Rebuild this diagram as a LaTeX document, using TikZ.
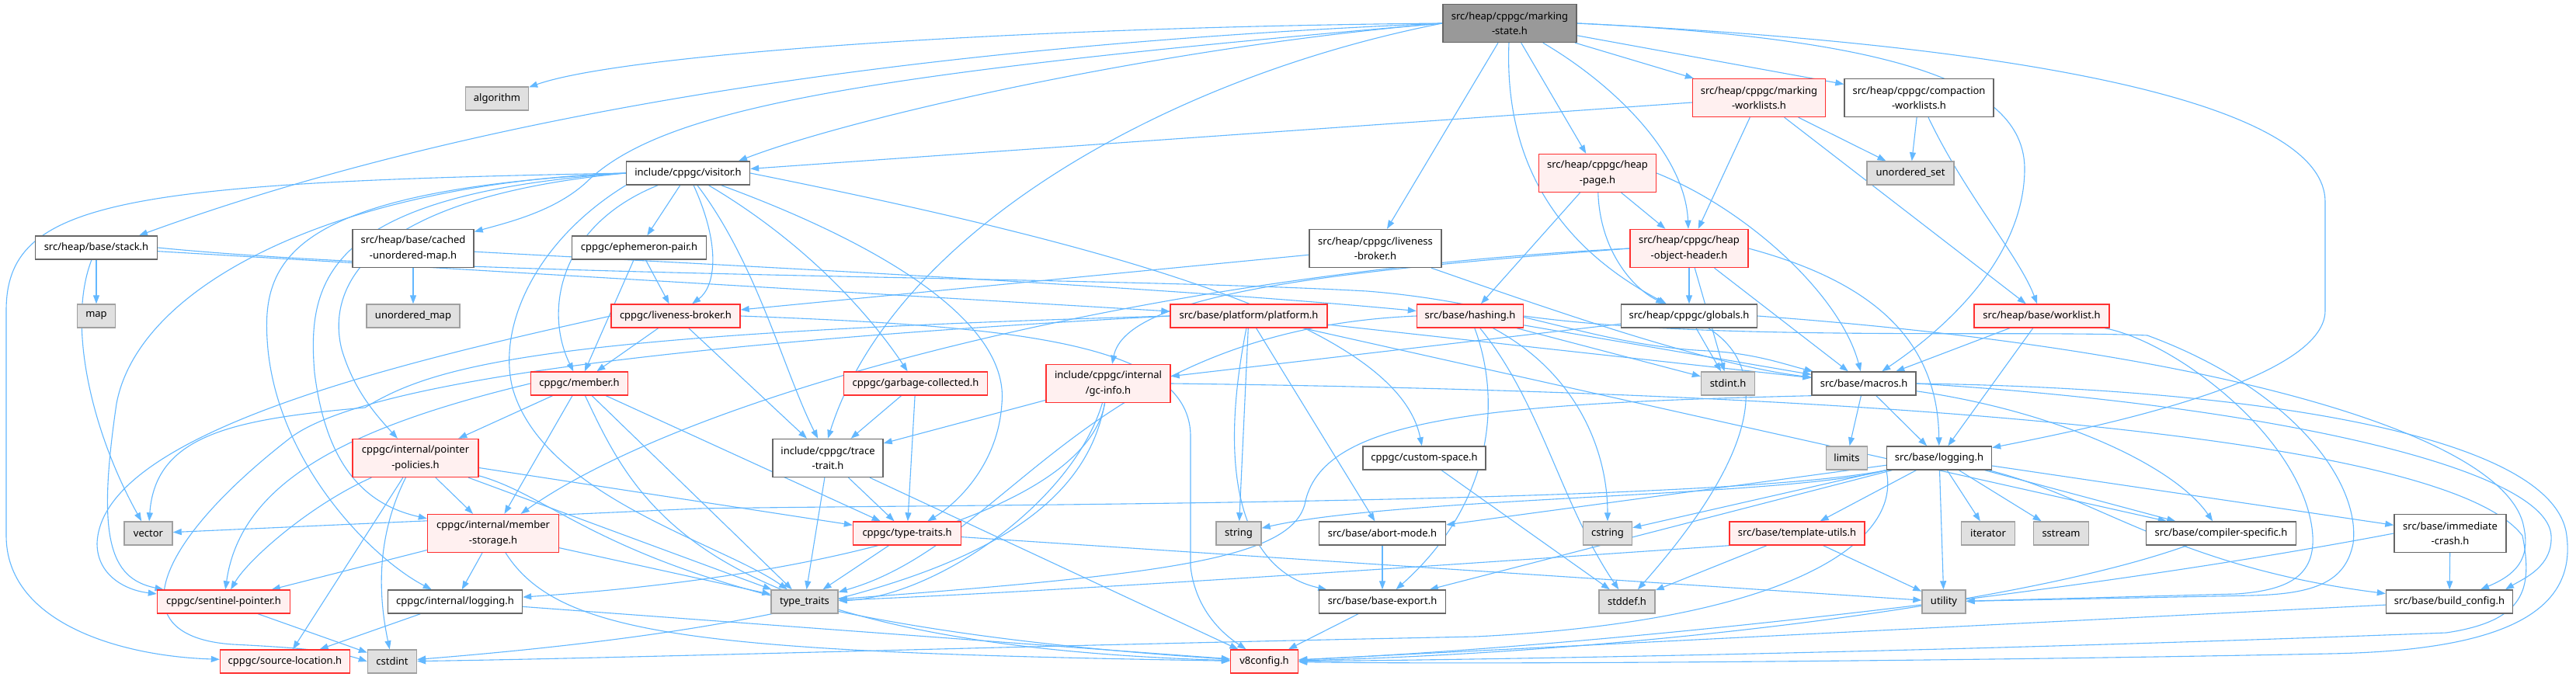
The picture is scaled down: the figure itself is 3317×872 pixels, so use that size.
\documentclass[tikz,border=0pt]{standalone}
\usepackage{fontspec}
\setmainfont{Noto Sans}
\usetikzlibrary{arrows.meta}
\pgfdeclarelayer{bg}
\pgfsetlayers{bg,main}
\definecolor{edgecol}{HTML}{63B8FF}
\definecolor{redb}{HTML}{FF3030}
\definecolor{redf}{HTML}{FFF0F0}
\definecolor{plb}{HTML}{666666}
\definecolor{syb}{HTML}{A0A0A0}
\definecolor{syf}{HTML}{E0E0E0}
\definecolor{rtf}{HTML}{999999}
\begin{document}
\begin{tikzpicture}[x=1pt,y=-1pt,
  nd/.style={inner sep=0pt, line width=1.4pt, align=center, font=\fontsize{13}{19.5}\selectfont},
  pl/.style={nd, draw=plb, fill=white},
  rd/.style={nd, draw=redb, fill=redf},
  sy/.style={nd, draw=syb, fill=syf},
  rt/.style={nd, draw=plb, fill=rtf},
  wh/.style 2 args={minimum width=#1pt, minimum height=#2pt},
  edg/.style={draw=edgecol, line width=1.1pt, -{Triangle[length=11pt,width=8pt]}}]
\useasboundingbox (0,0) rectangle (3317,872);
% ---------- nodes ----------
\node[rt,wh={172}{49}] (ms) at (1944,30) {src/heap/cppgc/marking\\-state.h};
\node[sy,wh={81}{30}] (alg) at (640,127) {algorithm};
\node[pl,wh={157}{30}] (stack) at (124,319) {src/heap/base/stack.h};
\node[pl,wh={156}{49}] (cached) at (532,320) {src/heap/base/cached\\-unordered-map.h};
\node[pl,wh={159}{30}] (vis) at (886,223) {include/cppgc/visitor.h};
\node[pl,wh={170}{49}] (lbsrc) at (1771,320) {src/heap/cppgc/liveness\\-broker.h};
\node[rd,wh={151}{49}] (hpage) at (2057,223) {src/heap/cppgc/heap\\-page.h};
\node[rd,wh={171}{49}] (mwl) at (2265,126) {src/heap/cppgc/marking\\-worklists.h};
\node[pl,wh={192}{49}] (cwl) at (2471,126) {src/heap/cppgc/compaction\\-worklists.h};
\node[sy,wh={112}{30}] (uset) at (2460,223) {unordered\_set};
\node[pl,wh={173}{30}] (eph) at (823,319) {cppgc/ephemeron-pair.h};
\node[rd,wh={152}{49}] (hoh) at (2175,320) {src/heap/cppgc/heap\\-object-header.h};
\node[sy,wh={49}{30}] (map) at (124,407) {map};
\node[sy,wh={120}{30}] (umap) at (532,407) {unordered\_map};
\node[rd,wh={166}{30}] (lbc) at (870,407) {cppgc/liveness-broker.h};
\node[rd,wh={202}{30}] (plat) at (1608,407) {src/base/platform/platform.h};
\node[rd,wh={137}{30}] (hash) at (1893,407) {src/base/hashing.h};
\node[pl,wh={175}{30}] (glob) at (2175,407) {src/heap/cppgc/globals.h};
\node[rd,wh={174}{30}] (wl) at (2629,407) {src/heap/base/worklist.h};
\node[rd,wh={125}{30}] (member) at (746,494) {cppgc/member.h};
\node[rd,wh={185}{30}] (gc) at (1179,494) {cppgc/garbage-collected.h};
\node[rd,wh={160}{49}] (gcinfo) at (1427,494) {include/cppgc/internal\\/gc-info.h};
\node[sy,wh={69}{30}] (stdint) at (2225,494) {stdint.h};
\node[pl,wh={134}{30}] (macros) at (2400,494) {src/base/macros.h};
\node[rd,wh={162}{49}] (pp) at (535,590) {cppgc/internal/pointer\\-policies.h};
\node[pl,wh={142}{49}] (tt) at (1066,590) {include/cppgc/trace\\-trait.h};
\node[pl,wh={158}{30}] (cs) at (1834,590) {cppgc/custom-space.h};
\node[sy,wh={53}{30}] (limits) at (2378,590) {limits};
\node[pl,wh={135}{30}] (log) at (2497,590) {src/base/logging.h};
\node[sy,wh={62}{30}] (vector) at (191,687) {vector};
\node[rd,wh={169}{49}] (ms2) at (635,687) {cppgc/internal/member\\-storage.h};
\node[rd,wh={139}{30}] (typ) at (1168,687) {cppgc/type-traits.h};
\node[sy,wh={58}{30}] (string) at (1595,687) {string};
\node[pl,wh={163}{30}] (abort) at (1780,687) {src/base/abort-mode.h};
\node[sy,wh={63}{30}] (cstring) at (2070,687) {cstring};
\node[rd,wh={174}{30}] (tu) at (2314,687) {src/base/template-utils.h};
\node[sy,wh={69}{30}] (iter) at (2560,687) {iterator};
\node[sy,wh={71}{30}] (sstream) at (2654,687) {sstream};
\node[pl,wh={193}{30}] (csp) at (2860,687) {src/base/compiler-specific.h};
\node[pl,wh={144}{49}] (ic) at (3155,687) {src/base/immediate\\-crash.h};
\node[rd,wh={171}{30}] (sent) at (288,775) {cppgc/sentinel-pointer.h};
\node[pl,wh={173}{30}] (ilog) at (586,775) {cppgc/internal/logging.h};
\node[sy,wh={86}{30}] (tts) at (1036,775) {type\_traits};
\node[pl,wh={163}{30}] (bexp) at (1780,775) {src/base/base-export.h};
\node[sy,wh={72}{30}] (stddef) at (2095,775) {stddef.h};
\node[sy,wh={56}{30}] (util) at (2503,775) {utility};
\node[pl,wh={163}{30}] (bc) at (3154,775) {src/base/build\_config.h};
\node[rd,wh={167}{30}] (sl) at (367,852) {cppgc/source-location.h};
\node[sy,wh={63}{30}] (cstdint) at (505,852) {cstdint};
\node[rd,wh={87}{30}] (v8) at (1628,852) {v8config.h};
% ---------- edges ----------
\begin{pgfonlayer}{bg}
\fill[white] (0,0) rectangle (3317,872);
% marking-state
\draw[edg] (ms.west) .. controls (1300,35) and (800,70) .. (alg);
\draw[edg] (ms.west) .. controls (1150,60) and (600,150) .. ([xshift=55pt]stack.north);
\draw[edg] (ms.west) .. controls (1100,95) and (860,140) .. (760,230) .. controls (720,270) and (660,285) .. (cached);
\draw[edg] (ms.west) .. controls (1500,60) and (1100,150) .. ([xshift=65pt]vis.north);
\draw[edg] (ms.west) .. controls (1500,100) and (1150,300) .. (tt.north);
\draw[edg] (ms) -- (lbsrc);
\draw[edg] (ms) .. controls (1935,250) and (2050,340) .. (glob);
\draw[edg] (ms) -- (hpage);
\draw[edg] (ms) .. controls (2080,110) and (2170,200) .. (hoh);
\draw[edg] (ms) -- (mwl);
\draw[edg] (ms) -- (cwl);
\draw[edg] (ms.east) .. controls (2450,50) and (2609,110) .. (2607,220) .. controls (2605,330) and (2510,420) .. (macros);
\draw[edg] (ms.east) .. controls (2650,60) and (2994,140) .. (2994,260) -- (2994,400) .. controls (2994,490) and (2700,550) .. (log);
% visitor
\draw[edg] (vis.west) .. controls (150,235) and (8,260) .. (8,400) -- (8,690) .. controls (8,800) and (150,845) .. (sl);
\draw[edg] (vis.west) .. controls (450,235) and (180,360) .. (150,520) .. controls (125,690) and (140,745) .. (sent);
\draw[edg] (vis.west) .. controls (360,245) and (335,340) .. (345,450) .. controls (360,600) and (480,720) .. (ilog);
\draw[edg] (vis.west) .. controls (420,250) and (395,360) .. (405,480) .. controls (420,600) and (470,650) .. (ms2);
\draw[edg] (vis.west) .. controls (470,255) and (420,370) .. (440,450) .. controls (455,500) and (480,530) .. (pp);
\draw[edg] (vis.south west) .. controls (690,310) and (640,420) .. (660,500) .. controls (700,640) and (930,700) .. (tts);
\draw[edg] (vis) -- (eph);
\draw[edg] (vis) .. controls (930,320) and (920,370) .. (lbc);
\draw[edg] (vis) .. controls (975,340) and (1010,480) .. (tt);
\draw[edg] (vis) .. controls (1050,320) and (1130,420) .. (gc);
\draw[edg] (vis) .. controls (1150,320) and (1300,420) .. (1290,520) .. controls (1285,600) and (1230,650) .. (typ);
\draw[edg] (vis.east) .. controls (1450,320) and (1800,420) .. (cs);
\draw[edg] (vis) .. controls (720,290) and (700,400) .. (member);
% ephemeron / liveness broker
\draw[edg] (eph) -- (lbc);
\draw[edg] (eph) -- (member);
\draw[edg] (lbc) -- (member);
\draw[edg] (lbc) -- (tt);
\draw[edg] (lbc.west) .. controls (500,470) and (130,560) .. (125,700) .. controls (125,740) and (160,760) .. (sent);
\draw[edg] (lbc.east) .. controls (1300,420) and (1530,440) .. (1533,560) -- (1533,730) .. controls (1540,790) and (1580,820) .. (v8);
% member
\draw[edg] (member) -- (pp);
\draw[edg] (member) -- (ms2);
\draw[edg] (member.west) .. controls (450,550) and (310,620) .. (sent);
\draw[edg] (member) -- (typ);
\draw[edg] (member) -- (tts);
\draw[edg] (member) .. controls (820,650) and (900,830) .. (v8);
% pointer policies
\draw[edg] (pp) -- (ms2);
\draw[edg] (pp) .. controls (400,650) and (320,720) .. (sent);
\draw[edg] (pp) -- (sl);
\draw[edg] (pp) .. controls (480,700) and (490,780) .. (cstdint);
\draw[edg] (pp) -- (typ);
\draw[edg] (pp) -- (tts);
\draw[edg] (pp) .. controls (750,650) and (820,800) .. (v8);
% member storage
\draw[edg] (ms2) -- (ilog);
\draw[edg] (ms2) -- (sent);
\draw[edg] (ms2) .. controls (720,820) and (900,840) .. (v8);
\draw[edg] (ms2) -- (tts);
\draw[edg] (ilog) -- (sl);
\draw[edg] (ilog) -- (v8);
\draw[edg] (sent) -- (cstdint);
% trace trait etc
\draw[edg] (tt) -- (tts);
\draw[edg] (tt) -- (typ);
\draw[edg] (tt) -- (v8);
\draw[edg] (gc) -- (tt);
\draw[edg] (gc) -- (typ);
\draw[edg] (typ) -- (tts);
\draw[edg] (typ) -- (util);
% gc-info
\draw[edg] (gcinfo) -- (tt);
\draw[edg] (gcinfo) .. controls (1380,650) and (1200,770) .. (tts);
\draw[edg] (gcinfo) .. controls (1390,700) and (1150,800) .. (cstdint);
\draw[edg] (gcinfo) .. controls (1400,650) and (1100,740) .. (ilog);
\draw[edg] (gcinfo.east) .. controls (2400,505) and (3150,560) .. (3248,690) .. controls (3262,760) and (3250,800) .. (3150,815) .. controls (2500,840) and (1900,850) .. (v8);
% heap object header
\draw[edg] (hoh) -- (stdint);
\draw[edg] (hoh.west) .. controls (1700,350) and (1450,380) .. (gcinfo);
\draw[edg] (hoh.west) .. controls (1500,350) and (900,500) .. (ms2);
\draw[edg] (hoh) -- (glob);
\draw[edg] (hoh) -- (macros);
\draw[edg] (hoh.east) .. controls (2400,360) and (2495,430) .. (log);
% heap page
\draw[edg] (hpage) -- (hoh);
\draw[edg] (hpage) .. controls (2060,320) and (2100,370) .. (glob);
\draw[edg] (hpage) -- (hash);
\draw[edg] (hpage.east) .. controls (2250,270) and (2370,380) .. (macros);
% worklists
\draw[edg] (mwl) -- (vis);
\draw[edg] (mwl) -- (hoh);
\draw[edg] (mwl) -- (uset);
\draw[edg] (mwl) -- (wl);
\draw[edg] (cwl) -- (uset);
\draw[edg] (cwl) .. controls (2530,250) and (2600,330) .. (wl);
% liveness broker src
\draw[edg] (lbsrc) -- (lbc);
\draw[edg] (lbsrc) .. controls (2000,400) and (2200,470) .. (macros);
% globals
\draw[edg] (glob) -- (stdint);
\draw[edg] (glob) .. controls (2290,480) and (2250,600) .. (stddef);
\draw[edg] (glob) -- (gcinfo);
\draw[edg] (glob.east) .. controls (2850,450) and (3230,560) .. (3250,680) .. controls (3258,720) and (3240,740) .. ([xshift=40pt]bc.north);
% hashing
\draw[edg] (hash) -- (stdint);
\draw[edg] (hash) -- (macros);
\draw[edg] (hash) .. controls (1935,520) and (1920,650) .. (bexp);
\draw[edg] (hash) .. controls (1985,520) and (2010,650) .. (stddef);
\draw[edg] (hash) .. controls (2030,480) and (2070,580) .. (cstring);
\draw[edg] (hash.west) .. controls (1400,425) and (1300,700) .. (tts);
\draw[edg] (hash.east) .. controls (2200,440) and (2600,425) .. (2765,432) .. controls (2950,500) and (3040,620) .. (3030,700) .. controls (3020,750) and (2980,765) .. (2900,767) -- (util);
% stack / cached
\draw[edg] (stack) -- (map);
\draw[edg] (stack) .. controls (85,420) and (120,560) .. (vector);
\draw[edg] (stack) -- (plat);
\draw[edg] (stack.east) .. controls (600,358) and (1400,355) .. (1760,375) .. controls (1950,390) and (2050,445) .. (2200,452) .. controls (2260,455) and (2300,470) .. (macros);
\draw[edg] (cached) -- (umap);
\draw[edg] (cached) .. controls (1000,345) and (1500,370) .. (hash);
% platform
\draw[edg] (plat) -- (string);
\draw[edg] (plat) -- (abort);
\draw[edg] (plat) .. controls (1560,650) and (1620,740) .. (bexp);
\draw[edg] (plat) -- (csp);
\draw[edg] (plat) -- (macros);
\draw[edg] (plat.west) .. controls (700,430) and (560,470) .. (470,525) .. controls (300,540) and (200,560) .. (vector);
\draw[edg] (plat.west) .. controls (800,445) and (450,500) .. (370,567) .. controls (200,700) and (150,820) .. (300,830) .. controls (380,834) and (430,838) .. (cstdint.west);
% macros
\draw[edg] (macros) -- (limits);
\draw[edg] (macros) -- (log);
\draw[edg] (macros) .. controls (2650,530) and (2800,600) .. (csp);
\draw[edg] (macros.south west) .. controls (1900,520) and (1700,540) .. (1680,650) .. controls (1660,720) and (1500,740) .. (tts);
\draw[edg] (macros.east) .. controls (2900,500) and (3290,560) .. (3305,690) .. controls (3318,790) and (3220,838) .. (3000,842) .. controls (2500,852) and (1900,856) .. (v8);
\draw[edg] (macros.east) .. controls (2900,520) and (3280,600) .. (3285,690) .. controls (3287,730) and (3250,745) .. ([xshift=72pt]bc.north);
% logging
\draw[edg] (log) -- (iter);
\draw[edg] (log) -- (sstream);
\draw[edg] (log) -- (csp);
\draw[edg] (log) -- (ic);
\draw[edg] (log) .. controls (2700,640) and (2800,730) .. (bc);
\draw[edg] (log) -- (util);
\draw[edg] (log) -- (tu);
\draw[edg] (log) -- (bexp);
\draw[edg] (log) -- (abort);
\draw[edg] (log) -- (cstring);
\draw[edg] (log.south west) .. controls (2300,640) and (1800,640) .. (string);
\draw[edg] (log.south west) .. controls (2200,650) and (1200,650) .. (900,655) -- (vector);
\draw[edg] (log.south west) .. controls (2450,700) and (2300,800) .. (1900,820) .. controls (1300,832) and (800,848) .. (cstdint);
% template utils and base
\draw[edg] (tu) -- (stddef);
\draw[edg] (tu) -- (util);
\draw[edg] (tu.south west) .. controls (1900,725) and (1400,760) .. (tts);
\draw[edg] (abort) -- (bexp);
\draw[edg] (bexp) -- (v8);
\draw[edg] (csp) .. controls (2600,780) and (2100,840) .. (v8);
\draw[edg] (ic) -- (bc);
\draw[edg] (ic.west) .. controls (2700,760) and (2100,830) .. (v8);
\draw[edg] (bc) -- (v8);
\draw[edg] (wl) -- (macros);
\draw[edg] (wl) -- (log);
\draw[edg] (wl) .. controls (2800,440) and (2960,560) .. (2977,680) .. controls (2985,740) and (2950,760) .. (2880,765) -- (util);
\draw[edg] (cs) -- (stddef);
\end{pgfonlayer}
\end{tikzpicture}
\end{document}
